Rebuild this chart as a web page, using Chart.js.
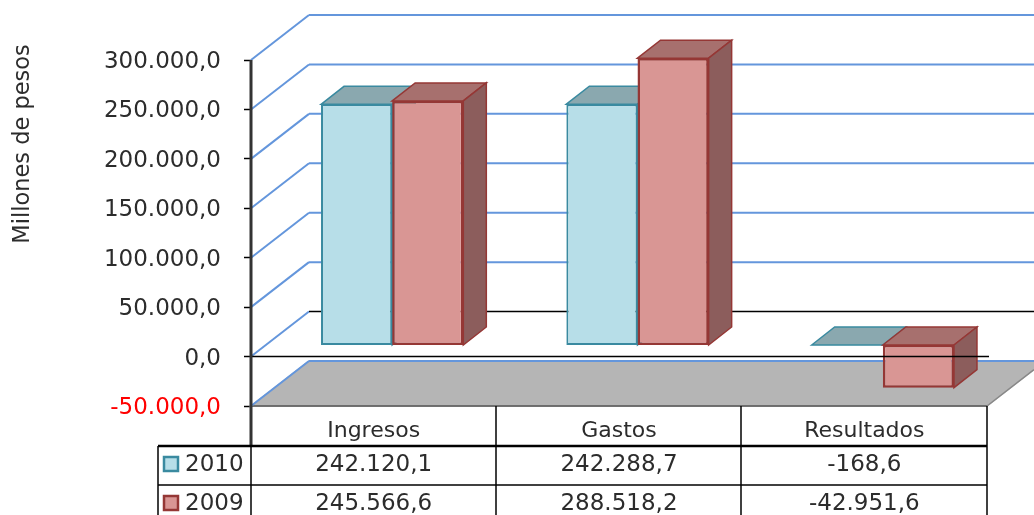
<!DOCTYPE html>
<html>
<head>
<meta charset="utf-8">
<title>Ingresos y gastos</title>
<script src="https://cdn.jsdelivr.net/npm/chart.js@4"></script>
<style>
    html, body { margin: 0; padding: 0; background: #fff; overflow: hidden; }
    canvas { display: block; }
</style>
</head>
<body>
<canvas id="chart3d" width="1034" height="515"></canvas>
<script>
const categories = ["Ingresos", "Gastos", "Resultados"];
const series2010 = [242120.1, 242288.7, -168.6];
const series2009 = [245566.6, 288518.2, -42951.6];
const seriesNames = ["2010", "2009"];
const yAxisTitle = "Millones de pesos";

const FONT = "'DejaVu Sans'";
const FONT_SIZE = 23;
const TEXT = "#2C2C2C";

// how far the back wall and the bars sit behind the front plane
const WALL_DX = 58, WALL_DY = -45;
const BAR_DX = 18.5, BAR_DEPTH_X = 23, BAR_DEPTH_Y = -18;

const COLORS = {
    grid: "#6496DC",
    floor: "#B5B5B5",
    teal: { fill: "#B7DEE8", line: "#3A8AA0", top: "#8AA8AF", side: "#6F8F96" },
    red: { fill: "#D99694", line: "#953735", top: "#A7706E", side: "#8C5D5C" }
};

function fmt(v) {
    return v.toLocaleString("de-DE", { minimumFractionDigits: 1, maximumFractionDigits: 1 });
}

function line(ctx, x1, y1, x2, y2, color, width) {
    ctx.strokeStyle = color;
    ctx.lineWidth = width;
    ctx.beginPath();
    ctx.moveTo(x1, y1);
    ctx.lineTo(x2, y2);
    ctx.stroke();
}

function poly(ctx, pts, fill, stroke) {
    ctx.beginPath();
    pts.forEach((p, i) => i ? ctx.lineTo(p[0], p[1]) : ctx.moveTo(p[0], p[1]));
    ctx.closePath();
    ctx.fillStyle = fill;
    ctx.fill();
    ctx.strokeStyle = stroke;
    ctx.lineWidth = 1.5;
    ctx.stroke();
}

// walls, floor and the bar depth faces, all placed from the scales
const depthPlugin = {
    id: "depth",
    afterLayout(chart) {
        // tick labels sit a little under their tick marks in the original
        chart.scales.y.getLabelItems().forEach(item => { item.options.translation[1] += 2; });
    },
    beforeDatasetsDraw(chart) {
        const { ctx, chartArea: a, scales } = chart;
        const y = scales.y;
        const w = chart.width;
        const floorFront = y.getPixelForValue(-50000);
        const floorEdge = floorFront + (w - a.right) * WALL_DY / WALL_DX;
        ctx.save();

        poly(ctx, [[a.left, floorFront], [a.left + WALL_DX, floorFront + WALL_DY],
            [w, floorFront + WALL_DY], [w, floorEdge], [a.right, floorFront]], COLORS.floor, COLORS.floor);
        line(ctx, a.left, floorFront, a.right, floorFront, "#555", 1.5);
        line(ctx, a.right, floorFront, w, floorEdge, "#888", 1.5);

        y.ticks.forEach(t => {
            const py = y.getPixelForValue(t.value);
            line(ctx, a.left, py, a.left + WALL_DX, py + WALL_DY, COLORS.grid, 2);
            line(ctx, a.left + WALL_DX, py + WALL_DY, w, py + WALL_DY, t.value === 0 ? "#000" : COLORS.grid, t.value === 0 ? 1.5 : 2);
        });

        ctx.translate(BAR_DX, 0);
        [COLORS.teal, COLORS.red].forEach((c, i) => {
            chart.getDatasetMeta(i).data.forEach(bar => {
                const l = bar.x - bar.width / 2, r = bar.x + bar.width / 2;
                const top = Math.min(bar.y, bar.base), bottom = Math.max(bar.y, bar.base);
                poly(ctx, [[l, top], [l + BAR_DEPTH_X, top + BAR_DEPTH_Y], [r + BAR_DEPTH_X, top + BAR_DEPTH_Y], [r, top]], c.top, c.line);
                if (bottom - top > 1) {
                    poly(ctx, [[r, top], [r + BAR_DEPTH_X, top + BAR_DEPTH_Y], [r + BAR_DEPTH_X, bottom + BAR_DEPTH_Y], [r, bottom]], c.side, c.line);
                }
            });
        });
        // keep the shift on for the bars themselves, undone in afterDatasetsDraw
    },
    afterDatasetsDraw(chart) {
        const { ctx, chartArea: a, scales } = chart;
        ctx.restore();

        const zero = scales.y.getPixelForValue(0);
        line(ctx, a.left, zero, a.right + 2, zero, "#000", 1.5);
        drawTable(chart);

        ctx.save();
        ctx.fillStyle = TEXT;
        ctx.font = "22.5px " + FONT;
        ctx.textAlign = "center";
        ctx.textBaseline = "middle";
        ctx.translate(23, 144);
        ctx.rotate(-Math.PI / 2);
        ctx.fillText(yAxisTitle, 0, 0);
        ctx.restore();
    }
};

function drawTable(chart) {
    const { ctx, chartArea: a, scales } = chart;
    const x = scales.x;
    const tableLeft = 158;
    const rows = [446, 485];
    const cols = [a.left, 496, 741, a.right];
    const rowY = [464, 503];
    const values = [series2010, series2009];
    const palette = [COLORS.teal, COLORS.red];

    line(ctx, a.left, a.top, a.left, rows[0], "#333", 3);
    cols.slice(1).forEach(c => line(ctx, c, a.bottom, c, rows[0], "#000", 1.5));
    cols.concat([tableLeft]).forEach(c => line(ctx, c, rows[0], c, 515, "#000", 1.5));
    line(ctx, tableLeft, rows[0], a.right, rows[0], "#000", 2.5);
    line(ctx, tableLeft, rows[1], a.right, rows[1], "#000", 1.5);

    ctx.font = FONT_SIZE + "px " + FONT;
    ctx.textBaseline = "middle";
    seriesNames.forEach((name, i) => {
        ctx.fillStyle = palette[i].fill;
        ctx.strokeStyle = palette[i].line;
        ctx.lineWidth = 2.5;
        ctx.fillRect(164, rowY[i] - 7, 14, 14);
        ctx.strokeRect(164, rowY[i] - 7, 14, 14);
        ctx.fillStyle = TEXT;
        ctx.textAlign = "left";
        ctx.fillText(name, 185, rowY[i] + 1.5);
        ctx.textAlign = "center";
        values[i].forEach((v, j) => ctx.fillText(fmt(v), x.getPixelForValue(j), rowY[i] + 1.5));
    });
}

new Chart(document.getElementById("chart3d").getContext("2d"), {
    type: "bar",
    data: {
        labels: categories,
        datasets: [
            {
                label: seriesNames[0],
                data: series2010,
                yAxisID: "yBar",
                backgroundColor: COLORS.teal.fill,
                borderColor: COLORS.teal.line,
                borderWidth: 2,
                borderSkipped: false,
                clip: false
            },
            {
                label: seriesNames[1],
                data: series2009,
                yAxisID: "yBar",
                backgroundColor: COLORS.red.fill,
                borderColor: COLORS.red.line,
                borderWidth: 2.5,
                borderSkipped: false,
                clip: false
            }
        ]
    },
    options: {
        responsive: false,
        animation: false,
        categoryPercentage: 0.58,
        barPercentage: 1,
        layout: { autoPadding: false, padding: { top: 60, right: 47, bottom: 0, left: 0 } },
        plugins: { legend: { display: false }, tooltip: { enabled: false } },
        scales: {
            x: {
                grid: { display: false },
                border: { display: false },
                ticks: {
                    color: TEXT,
                    font: { family: FONT, size: 22 },
                    padding: 4,
                    maxRotation: 0
                },
                afterFit(scale) { scale.height = 109; }
            },
            y: {
                min: -50000,
                max: 300000,
                grid: { drawOnChartArea: false, drawTicks: true, tickLength: 7, tickColor: "#000", tickWidth: 1.5 },
                border: { display: false },
                ticks: {
                    stepSize: 50000,
                    padding: 23,
                    font: { family: FONT, size: FONT_SIZE },
                    color: c => c.tick.value < 0 ? "#FF0000" : TEXT,
                    callback: v => fmt(v)
                },
                afterFit(scale) { scale.width = 251; }
            },
            // same pixels as y, but with zero where the bars stand inside the box
            yBar: {
                display: false,
                min: -61370,
                max: 286720
            }
        }
    },
    plugins: [depthPlugin]
});
</script>
</body>
</html>
